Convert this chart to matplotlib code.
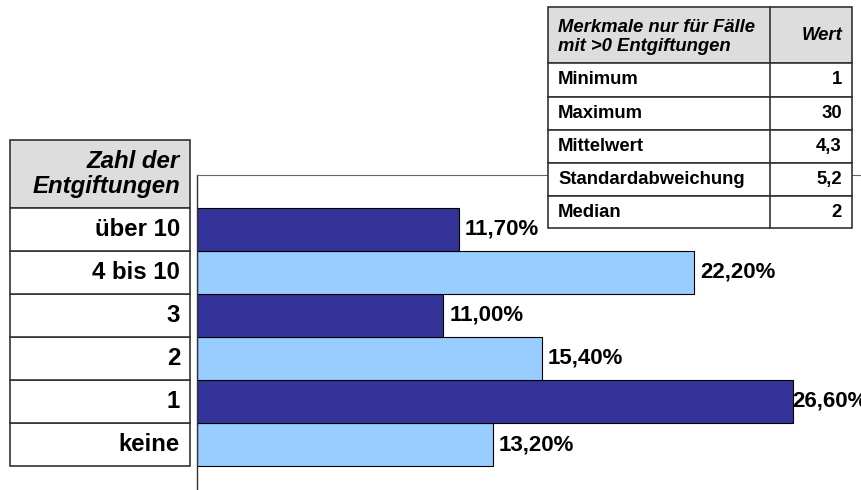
import matplotlib
matplotlib.use('Agg')
import matplotlib.pyplot as plt
from matplotlib.patches import Rectangle
from matplotlib.transforms import blended_transform_factory

plt.rcParams['font.family'] = ['Liberation Sans', 'DejaVu Sans']

# daten
kategorien = ['keine', '1', '2', '3', '4 bis 10', 'über 10']
anteile = [13.2, 26.6, 15.4, 11.0, 22.2, 11.7]
labels = ['13,20%', '26,60%', '15,40%', '11,00%', '22,20%', '11,70%']
farben = ['#99CCFF', '#333399', '#99CCFF', '#333399', '#99CCFF', '#333399']

kopf_links = 'Zahl der\nEntgiftungen'
kopf_tabelle = 'Merkmale nur für Fälle\nmit >0 Entgiftungen'
kopf_wert = 'Wert'
merkmale = ['Minimum', 'Maximum', 'Mittelwert', 'Standardabweichung', 'Median']
werte = ['1', '30', '4,3', '5,2', '2']

W, H = 861, 490
fig = plt.figure(figsize=(W / 100, H / 100), dpi=100)

# balken-achse (pixel 197..861, 175..490)
ax = fig.add_axes([197 / W, 0, (W - 197) / W, 315 / H])
y = list(range(len(kategorien)))
ax.barh(y, anteile, height=1.0, color=farben, edgecolor='black', linewidth=0.8)
ax.set_xlim(0, (W - 197) / 22.39)
ax.set_ylim(-1.058, 6.267)
for i, (v, t) in enumerate(zip(anteile, labels)):
    # label am rand: ohne abstand, wie im original (wird abgeschnitten)
    gap = 0.0 if v > 25 else 0.27
    ax.text(v + gap, i, t, va='center', ha='left', fontsize=16,
            fontweight='bold', color='black', clip_on=False)
ax.set_xticks([])
ax.set_yticks([])
for s in ['right', 'bottom']:
    ax.spines[s].set_visible(False)
ax.spines['left'].set_color('#333333')
ax.spines['top'].set_color('#666666')
ax.spines['left'].set_linewidth(1.0)
ax.spines['top'].set_linewidth(0.8)

# overlay in pixeln
ov = fig.add_axes([0, 0, 1, 1], zorder=5)
ov.set_xlim(0, W)
ov.set_ylim(H, 0)
ov.axis('off')

rand = '#333333'
# linke tabelle: kopf
ov.add_patch(Rectangle((10, 140), 180, 68, facecolor='#DDDDDD', edgecolor=rand, lw=1.2))
ov.text(180, 174, kopf_links, ha='right', va='center', fontsize=17.3,
        fontweight='bold', fontstyle='italic', linespacing=1.1)
# linke tabelle: zeilen an den balken ausgerichtet
tr = blended_transform_factory(ov.transData, ax.transData)
for i, k in enumerate(kategorien):
    ov.add_patch(Rectangle((10, i - 0.5), 180, 1.0, transform=tr, facecolor='white',
                           edgecolor=rand, lw=1.2))
    ov.text(180, i, k, transform=tr, ha='right', va='center', fontsize=17.3,
            fontweight='bold')

# rechte tabelle
x0, x1, xm = 548, 852, 770
ov.add_patch(Rectangle((x0, 7), x1 - x0, 56, facecolor='#DDDDDD', edgecolor=rand, lw=1.2))
ov.plot([xm, xm], [7, 63], color=rand, lw=1.2)
ov.text(558, 37, kopf_tabelle, ha='left', va='center', fontsize=13.3,
        fontweight='bold', fontstyle='italic', linespacing=1.2)
ov.text(842, 35, kopf_wert, ha='right', va='center', fontsize=13.3,
        fontweight='bold', fontstyle='italic')
zeilen_y = [63, 97, 130, 163, 196, 228]
for j, (m, w) in enumerate(zip(merkmale, werte)):
    ya, yb = zeilen_y[j], zeilen_y[j + 1]
    ov.add_patch(Rectangle((x0, ya), x1 - x0, yb - ya, facecolor='white', edgecolor=rand, lw=1.2))
    ov.plot([xm, xm], [ya, yb], color=rand, lw=1.2)
    ov.text(558, (ya + yb) / 2, m, ha='left', va='center', fontsize=13.3, fontweight='bold')
    ov.text(842, (ya + yb) / 2, w, ha='right', va='center', fontsize=13.3, fontweight='bold')

fig.savefig('out.png', dpi=100)
